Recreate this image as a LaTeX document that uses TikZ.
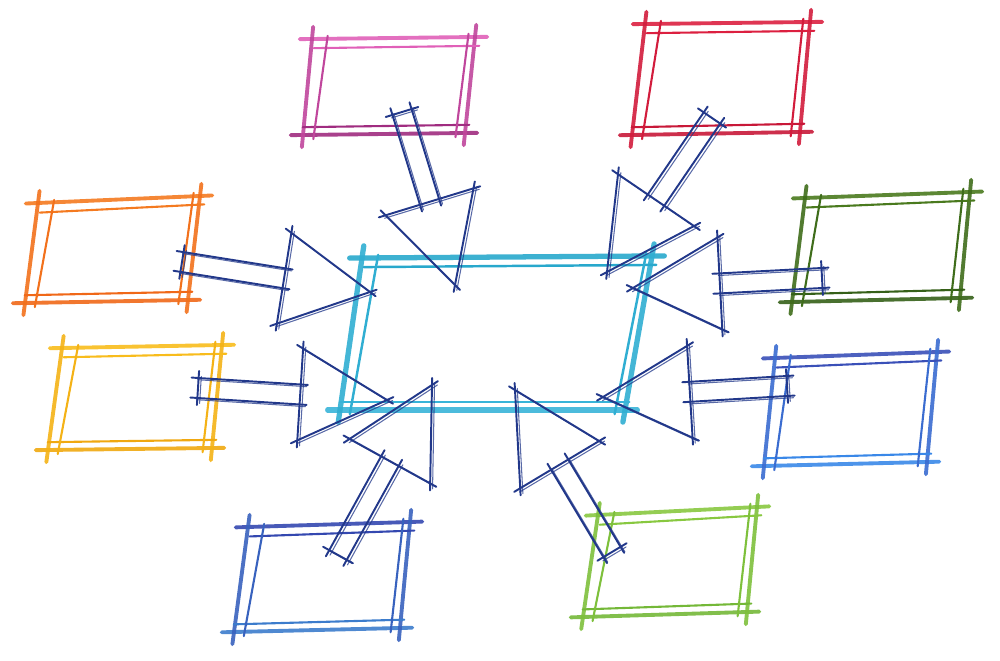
\documentclass[tikz,border=0pt]{standalone}
\usetikzlibrary{calc}
\definecolor{navy}{HTML}{22388A}
\definecolor{pinkA}{HTML}{E060B8}\definecolor{pinkB}{HTML}{A02C80}
\definecolor{redA}{HTML}{DC2040}\definecolor{redB}{HTML}{C81838}
\definecolor{orA}{HTML}{F47A20}\definecolor{orB}{HTML}{F06818}
\definecolor{dgA}{HTML}{4A7A1E}\definecolor{dgB}{HTML}{356018}
\definecolor{yeA}{HTML}{F8BC1C}\definecolor{yeB}{HTML}{F0A810}
\definecolor{rbA}{HTML}{3A50B8}\definecolor{rbB}{HTML}{3A88E8}
\definecolor{blA}{HTML}{3448B0}\definecolor{blB}{HTML}{3C7CCC}
\definecolor{lgA}{HTML}{88C840}\definecolor{lgB}{HTML}{74B838}
\definecolor{cyA}{HTML}{28A8CC}\definecolor{cyB}{HTML}{38B4D8}
\tikzset{
  boxout/.style={line width=2.2pt, line cap=round, opacity=0.9},
  boxin/.style={line width=1.2pt, line cap=round},
  arrline/.style={draw=navy, line width=1.1pt, line cap=round},
  arrline2/.style={draw=navy, line width=0.6pt, line cap=round, opacity=0.75},
}
% sketchy line with overshoot
\newcommand\skl[3][]{\draw[#1] ($(#2)!-7pt!(#3)$) -- ($(#3)!-7pt!(#2)$);}
% doubled arrow stroke
\newcommand\askl[2]{%
  \draw[arrline] ($(#1)!-4pt!(#2)$) -- ($(#2)!-4pt!(#1)$);
  \draw[arrline2, transform canvas={xshift=1.4pt,yshift=-1.1pt}] ($(#1)!-2pt!(#2)$) -- ($(#2)!-2pt!(#1)$);}
% sketch box: name, top colour, bottom colour, TL, TR, BR, BL
\newcommand\sketchbox[7]{%
  \coordinate (#1-tl) at (#4); \coordinate (#1-tr) at (#5);
  \coordinate (#1-br) at (#6); \coordinate (#1-bl) at (#7);
  \coordinate (#1-itl) at ($(#1-tl)+(14,9)$); \coordinate (#1-itr) at ($(#1-tr)+(-8,9)$);
  \coordinate (#1-ibr) at ($(#1-br)+(-8,-8)$); \coordinate (#1-ibl) at ($(#1-bl)+(12,-8)$);
  \skl[boxout,draw=#2]{#1-tl}{#1-tr}
  \skl[boxout,draw=#3]{#1-bl}{#1-br}
  \skl[boxout,draw=#2!50!#3]{#1-tl}{#1-bl}
  \skl[boxout,draw=#2!50!#3]{#1-tr}{#1-br}
  \skl[boxin,draw=#2]{#1-itl}{#1-itr}
  \skl[boxin,draw=#3]{#1-ibl}{#1-ibr}
  \skl[boxin,draw=#2!50!#3]{#1-itl}{#1-ibl}
  \skl[boxin,draw=#2!50!#3]{#1-itr}{#1-ibr}}
% block arrow outline: prefix, start, tip
\newcommand\sketcharrow[3]{%
  \coordinate (#1h) at ($(#3)!1.74cm!(#2)$);
  \coordinate (#1a) at ($(#2)!0.2cm!90:(#3)$);
  \coordinate (#1b) at ($(#2)!0.2cm!270:(#3)$);
  \coordinate (#1c) at ($(#1h)!0.2cm!90:(#3)$);
  \coordinate (#1d) at ($(#1h)!0.2cm!270:(#3)$);
  \coordinate (#1e) at ($(#1h)!0.92cm!90:(#3)$);
  \coordinate (#1f) at ($(#1h)!0.92cm!270:(#3)$);
  \askl{#1a}{#1c}\askl{#1b}{#1d}\askl{#1a}{#1b}
  \askl{#1e}{#1f}\askl{#1e}{#3}\askl{#1f}{#3}}
\begin{document}
\begin{tikzpicture}[x=0.02cm,y=-0.02cm]
\useasboundingbox (0,0) rectangle (1000,661);
% central hub
\begin{scope}[boxout/.append style={line width=3pt}, boxin/.append style={line width=1.4pt}]
\sketchbox{hub}{cyA}{cyB}{362,258}{652,256}{625,410}{340,410}
\end{scope}
% outer boxes
\sketchbox{pink}{pinkA}{pinkB}{312,39}{475,37}{465,133}{303,135}
\sketchbox{red}{redA}{redB}{645,24}{810,22}{800,132}{632,135}
\sketchbox{orange}{orA}{orB}{38,203}{200,196}{188,300}{25,303}
\sketchbox{dgreen}{dgA}{dgB}{805,198}{970,192}{960,298}{792,302}
\sketchbox{yellow}{yeA}{yeB}{62,348}{222,345}{212,448}{48,450}
\sketchbox{rblue}{rbA}{rbB}{775,358}{937,352}{927,462}{764,466}
\sketchbox{bblue}{blA}{blB}{248,527}{410,522}{400,628}{234,632}
\sketchbox{lgreen}{lgA}{lgB}{598,515}{757,507}{747,612}{583,617}
% arrow anchors
\coordinate (pink-s) at (402,112);   \coordinate (hub-n1) at (455,285);
\coordinate (red-s) at (712,118);    \coordinate (hub-n2) at (607,272);
\coordinate (orange-s) at (182,262); \coordinate (hub-w1) at (370,292);
\coordinate (dgreen-s) at (822,278); \coordinate (hub-e1) at (633,288);
\coordinate (yellow-s) at (198,388); \coordinate (hub-w2) at (387,400);
\coordinate (rblue-s) at (787,386);  \coordinate (hub-e2) at (603,397);
\coordinate (bblue-s) at (338,555);  \coordinate (hub-s1) at (432,385);
\coordinate (lgreen-s) at (612,552); \coordinate (hub-s2) at (515,390);
% arrows
\sketcharrow{a1}{pink-s}{hub-n1}
\sketcharrow{a2}{red-s}{hub-n2}
\sketcharrow{a3}{orange-s}{hub-w1}
\sketcharrow{a4}{dgreen-s}{hub-e1}
\sketcharrow{a5}{yellow-s}{hub-w2}
\sketcharrow{a6}{rblue-s}{hub-e2}
\sketcharrow{a7}{bblue-s}{hub-s1}
\sketcharrow{a8}{lgreen-s}{hub-s2}
\end{tikzpicture}
\end{document}
